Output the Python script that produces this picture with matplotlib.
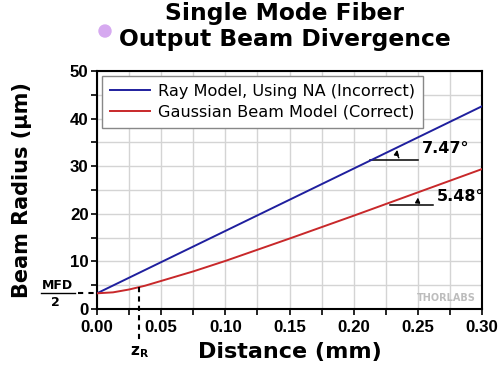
"""Single mode fiber output beam divergence: ray model vs Gaussian beam."""
import matplotlib

matplotlib.use("Agg")
import matplotlib.pyplot as plt
from matplotlib.lines import Line2D
from matplotlib.patches import Ellipse

# distance (mm) and beam radius (um)
ray_dist = [0.00, 0.30]
ray_radius = [3.3, 42.6]

gauss_dist = [0.000, 0.0125, 0.025, 0.0375, 0.050, 0.075, 0.100,
              0.150, 0.200, 0.250, 0.300]
gauss_radius = [3.3, 3.5, 4.1, 4.9, 5.9, 7.9, 10.1,
                14.8, 19.6, 24.5, 29.4]

mfd_half = 3.3
z_rayleigh = 0.033
angle_labels = ["7.47\u00b0", "5.48\u00b0"]

BLUE = "#1f1f9e"
RED = "#c8282a"

fig = plt.figure(figsize=(5, 3.65), dpi=100)
ax = fig.add_axes([0.194, 0.1534, 0.770, 0.652])

ax.plot(ray_dist, ray_radius, color=BLUE, lw=1.4,
        label="Ray Model, Using NA (Incorrect)", zorder=3)
ax.plot(gauss_dist, gauss_radius, color=RED, lw=1.4,
        label="Gaussian Beam Model (Correct)", zorder=3)

ax.set_xlim(0, 0.30)
ax.set_ylim(0, 50)
ax.set_xticks([i * 0.025 for i in range(13)])
ax.set_xticklabels([f"{i * 0.025:.2f}" if i % 2 == 0 else "" for i in range(13)])
ax.set_yticks(range(0, 51, 5))
ax.set_yticklabels([str(v) if v % 10 == 0 else "" for v in range(0, 51, 5)])
ax.tick_params(direction="out", length=4, width=1.2, pad=2)
ax.tick_params(axis="x", pad=4)
for lab in ax.get_xticklabels() + ax.get_yticklabels():
    lab.set_fontweight("bold")
    lab.set_fontfamily("Liberation Sans")
    lab.set_fontsize(12.2)
ax.grid(color="#d4d4d4", lw=1.0)
ax.set_axisbelow(True)
for sp in ax.spines.values():
    sp.set_linewidth(1.5)

ax.set_xlabel("Distance (mm)", fontsize=16, fontweight="bold", labelpad=5)
ax.set_ylabel("Beam Radius (\u03bcm)", fontsize=15, fontweight="bold")
ax.yaxis.set_label_coords(-0.17, 0.5)

leg = ax.legend(loc="upper left", fontsize=11.6, fancybox=False,
                edgecolor="#888888", framealpha=1, handlelength=2.5,
                borderaxespad=0.3, labelspacing=0.35, borderpad=0.5,
                handletextpad=0.5)
leg.get_frame().set_linewidth(1.0)

fig.text(0.569, 0.995, "Single Mode Fiber\nOutput Beam Divergence",
         ha="center", va="top", fontsize=16.8, fontweight="bold",
         linespacing=1.2)
fig.patches.append(Ellipse((0.21, 0.915), 0.024, 0.024 * 500 / 365,
                           transform=fig.transFigure, color="#d6a9f0",
                           zorder=5))

# angle markers
ax.plot([0.2125, 0.2505], [31.3, 31.3], color="black", lw=1.1)
ax.annotate("", xy=(0.2345, 34.0), xytext=(0.2365, 31.3),
            arrowprops=dict(arrowstyle="-|>", color="black", lw=1.0,
                            mutation_scale=7,
                            connectionstyle="arc3,rad=-0.3"))
ax.text(0.2535, 33.7, angle_labels[0], fontsize=11.5, fontweight="bold",
        va="center")

ax.plot([0.2285, 0.262], [21.8, 21.8], color="black", lw=1.1)
ax.annotate("", xy=(0.2505, 24.0), xytext=(0.2525, 21.8),
            arrowprops=dict(arrowstyle="-|>", color="black", lw=1.0,
                            mutation_scale=7,
                            connectionstyle="arc3,rad=-0.3"))
ax.text(0.2645, 23.6, angle_labels[1], fontsize=11.5, fontweight="bold",
        va="center")

# z_R marker
ax.plot([z_rayleigh, z_rayleigh], [4.6, -6.5], color="black", lw=1.5,
        ls=(0, (2.5, 2)), clip_on=False, zorder=4)
fig.text(0.28, 0.035, r"$\mathbf{z_R}$", fontsize=11, ha="center", va="center")

# MFD/2 marker
ax.plot([-0.0145, 0.0], [mfd_half, mfd_half], color="black", lw=1.5,
        ls=(0, (2.5, 2.5)), clip_on=False)
fig.text(0.114, 0.219, "MFD", fontsize=9, fontweight="bold",
         ha="center", va="center")
fig.text(0.11, 0.170, "2", fontsize=9, fontweight="bold",
         ha="center", va="center")
fig.lines.append(Line2D([0.081, 0.150], [0.197, 0.197], color="black",
                        lw=1.0, transform=fig.transFigure))

ax.text(0.985, 0.045, "THORLABS", transform=ax.transAxes, fontsize=7,
        fontweight="bold", color="#bdbdbd", ha="right", va="center")

fig.savefig("out.png", dpi=100, facecolor="white")
